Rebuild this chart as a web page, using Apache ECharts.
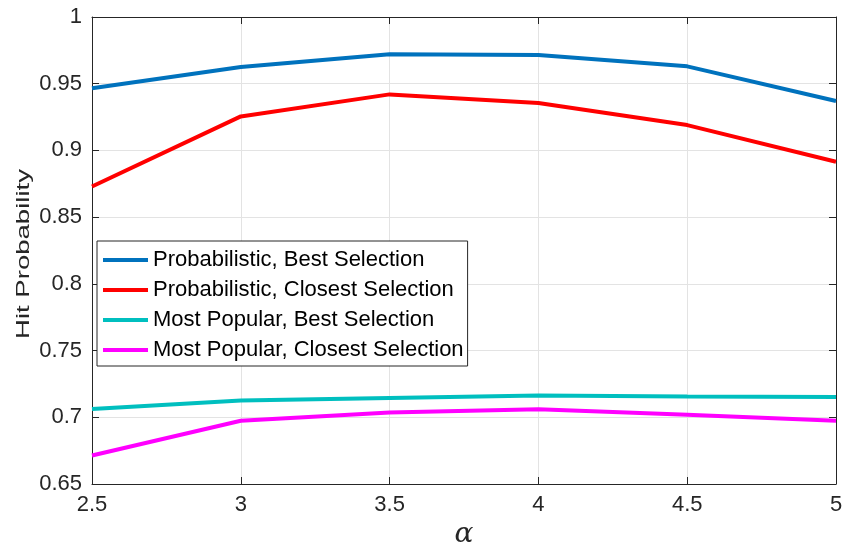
<!DOCTYPE html>
<html><head><meta charset="utf-8">
<script src="https://cdn.jsdelivr.net/npm/echarts@6/dist/echarts.min.js"></script>
<style>html,body{margin:0;padding:0;background:#fff;overflow:hidden}#c{width:844px;height:542px}</style>
</head><body><div id="c"></div>
<script>
const alphaValues = [2.5, 3, 3.5, 4, 4.5, 5];
const seriesNames = ["Probabilistic, Best Selection", "Probabilistic, Closest Selection", "Most Popular, Best Selection", "Most Popular, Closest Selection"];
const probBest = [0.9466, 0.9625, 0.972, 0.9715, 0.963, 0.937];
const probClosest = [0.873, 0.9255, 0.942, 0.9356, 0.919, 0.8915];
const popBest = [0.7063, 0.7125, 0.7145, 0.7163, 0.7155, 0.7152];
const popClosest = [0.6714, 0.6974, 0.7036, 0.706, 0.7019, 0.6974];
const colors = ["#0072BD", "#FF0000", "#00BFBF", "#FF00FF"];
const allSeries = [probBest, probClosest, popBest, popClosest];

const chart = echarts.init(document.getElementById('c'), null, {renderer: 'canvas'});
const axisColor = '#262626';
const font = '"Liberation Sans", Arial, sans-serif';
chart.setOption({
  animation: false,
  grid: {left: 92, top: 17, width: 744, height: 467, containLabel: false, outerBoundsMode: 'none'},
  legend: {
    orient: 'vertical', left: 97, top: 241,
    data: seriesNames,
    icon: 'rect', itemWidth: 45, itemHeight: 4, itemGap: 8,
    padding: [8, 4, 5, 6],
    borderColor: '#262626', borderWidth: 1, backgroundColor: '#fff',
    textStyle: {fontFamily: font, fontSize: 22, color: '#000', lineHeight: 22, padding: [0,0,0,0]}
  },
  graphic: [{
    type: 'text', x: 24, y: 254,
    rotation: Math.PI / 2,
    scaleX: 1.45, scaleY: 1,
    style: {text: 'Hit Probability', fontFamily: font, fontSize: 19, fill: axisColor,
      textAlign: 'center', textVerticalAlign: 'middle'}
  }],
  xAxis: [{
    type: 'value', min: 2.5, max: 5, interval: 0.5,
    name: 'α', nameLocation: 'middle', nameGap: 34,
    nameTextStyle: {fontFamily: '"DejaVu Serif", "Liberation Serif", serif', fontStyle: 'italic', fontSize: 28, color: axisColor},
    axisLine: {lineStyle: {color: axisColor, width: 1}},
    axisTick: {inside: true, length: 7, lineStyle: {color: axisColor}},
    axisLabel: {fontFamily: font, fontSize: 22, color: axisColor, margin: 10},
    splitLine: {show: true, lineStyle: {color: '#e3e3e3', width: 1}}
  }, {
    type: 'value', min: 2.5, max: 5, interval: 0.5, position: 'top',
    axisLine: {show: true, lineStyle: {color: axisColor}},
    axisTick: {show: true, inside: true, length: 7, lineStyle: {color: axisColor}},
    axisLabel: {show: false}, splitLine: {show: false}
  }],
  yAxis: [{
    type: 'value', min: 0.65, max: 1, interval: 0.05,
    axisLine: {show: true, lineStyle: {color: axisColor}},
    axisTick: {show: true, inside: true, length: 7, lineStyle: {color: axisColor}},
    axisLabel: {fontFamily: font, fontSize: 22, color: axisColor, margin: 10,
      formatter: v => String(Math.round(v * 100) / 100)},
    splitLine: {show: true, lineStyle: {color: '#e3e3e3', width: 1}}
  }, {
    type: 'value', min: 0.65, max: 1, interval: 0.05, position: 'right',
    axisLine: {show: true, lineStyle: {color: axisColor}},
    axisTick: {show: true, inside: true, length: 7, lineStyle: {color: axisColor}},
    axisLabel: {show: false}, splitLine: {show: false}
  }],
  series: allSeries.map((vals, i) => ({
    name: seriesNames[i], type: 'line', xAxisIndex: 0, yAxisIndex: 0,
    data: alphaValues.map((a, j) => [a, vals[j]]),
    showSymbol: false, symbol: 'none',
    lineStyle: {color: colors[i], width: 4}, itemStyle: {color: colors[i]}
  }))
});
</script></body></html>
